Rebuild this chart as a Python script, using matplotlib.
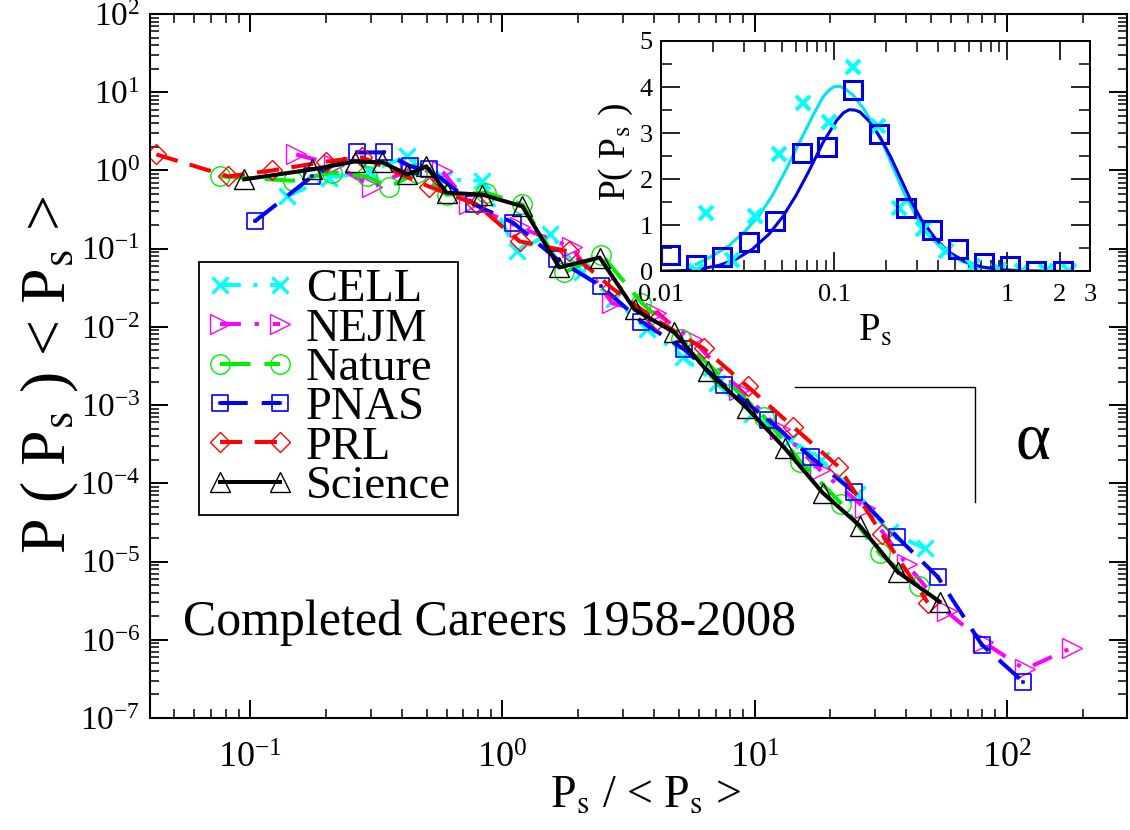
import matplotlib
matplotlib.use("Agg")
import matplotlib.pyplot as plt
from matplotlib.path import Path
from matplotlib.ticker import LogLocator, NullFormatter, FixedLocator, FixedFormatter, MultipleLocator

plt.rcParams["font.family"] = ["Liberation Serif", "DejaVu Serif"]
plt.rcParams["mathtext.fontset"] = "stix"
plt.rcParams["lines.scale_dashes"] = False

# ---- main panel: P(Ps)<Ps> vs Ps/<Ps> ----
cell_x = [0.140, 0.206, 0.297, 0.420, 0.589, 0.826, 1.14, 1.54, 2.06, 2.78, 3.76,
          5.18, 7.07, 9.73, 13.8, 18.4, 25.4, 34.3, 47.3]
cell_y = [0.47, 0.81, 0.97, 1.51, 0.77, 0.74, 0.092, 0.156, 0.0496, 0.0224, 0.0093,
          0.0041, 0.0019, 7.6e-4, 3.6e-4, 2.0e-4, 7.2e-5, 2.4e-5, 1.47e-5]

nejm_x = [0.152, 0.215, 0.305, 0.428, 0.578, 0.739, 1.17, 1.88, 2.73, 4.08, 5.67,
          8.71, 12.6, 18.1, 27.3, 40.1, 57.8, 80.3, 118, 181]
nejm_y = [1.60, 1.19, 0.61, 1.03, 0.97, 0.367, 0.187, 0.104, 0.020, 0.015, 0.0069,
          0.00158, 4.9e-4, 1.5e-4, 4.9e-5, 9.2e-6, 2.3e-6, 9.5e-7, 4.2e-7, 7.9e-7]

nature_x = [0.076, 0.147, 0.211, 0.289, 0.356, 0.460, 0.600, 0.864, 1.20, 1.76, 2.47,
            3.56, 5.13, 7.46, 10.9, 15.2, 22.1, 31.3, 44.8]
nature_y = [0.84, 0.74, 0.94, 0.84, 0.62, 0.94, 0.49, 0.52, 0.367, 0.0496, 0.084,
            0.0205, 0.0069, 0.00226, 7.1e-4, 1.9e-4, 5.5e-5, 1.27e-5, 4.9e-6]

pnas_x = [0.104, 0.176, 0.264, 0.340, 0.428, 0.513, 0.774, 1.10, 1.65, 2.47, 3.56,
          5.27, 7.54, 11.3, 16.8, 24.7, 36.6, 53.2, 79.6, 116]
pnas_y = [0.223, 0.84, 1.70, 1.70, 1.13, 1.03, 0.367, 0.216, 0.0728, 0.0329, 0.0117,
          0.00514, 0.00183, 6.5e-4, 2.14e-4, 7.85e-5, 2.09e-5, 6.4e-6, 8.7e-7, 2.92e-7]

prl_x = [0.0424, 0.0818, 0.122, 0.200, 0.278, 0.513, 0.789, 1.17, 1.84, 2.73, 4.09,
         6.28, 9.38, 14.2, 21.5, 31.9, 48.6]
prl_y = [1.60, 0.84, 1.0, 1.30, 1.47, 0.62, 0.367, 0.124, 0.092, 0.031, 0.0121,
         0.0053, 0.00173, 5.3e-4, 1.64e-4, 2.28e-5, 2.99e-6]

science_x = [0.0946, 0.176, 0.259, 0.334, 0.420, 0.499, 0.600, 0.833, 1.20, 1.68, 2.43,
             3.34, 4.81, 6.51, 9.29, 13.2, 18.6, 26.1, 36.9, 54.2]
science_y = [0.77, 1.03, 1.30, 1.27, 0.89, 1.13, 0.52, 0.49, 0.347, 0.0575, 0.077,
             0.0167, 0.00848, 0.00269, 9.3e-4, 2.79e-4, 7.6e-5, 2.88e-5, 7.4e-6, 3.07e-6]

journals = ["CELL", "NEJM", "Nature", "PNAS", "PRL", "Science"]
main_x = [cell_x, nejm_x, nature_x, pnas_x, prl_x, science_x]
main_y = [cell_y, nejm_y, nature_y, pnas_y, prl_y, science_y]

# slope guide (alpha)
slope_x = [14.4, 74.6, 74.6]
slope_y = [1.68e-3, 1.68e-3, 5.7e-5]

# ---- inset: P(Ps) vs Ps ----
ins_cell_x = [0.016, 0.0183, 0.0257, 0.035, 0.0477, 0.066, 0.0935, 0.128, 0.179, 0.237,
              0.324, 0.444, 0.63, 0.89, 1.22, 1.67, 2.28]
ins_cell_y = [0.0, 1.26, 0.24, 1.21, 2.55, 3.66, 3.24, 4.43, 3.15, 1.38,
              0.92, 0.44, 0.11, 0.04, 0.0, 0.0, 0.0]
ins_pnas_x = [0.0113, 0.016, 0.0226, 0.0321, 0.0454, 0.065, 0.091, 0.128, 0.182, 0.259,
              0.367, 0.519, 0.733, 1.03, 1.47, 2.09]
ins_pnas_y = [0.35, 0.15, 0.32, 0.64, 1.09, 2.57, 2.71, 3.93, 2.98, 1.37,
              0.90, 0.49, 0.18, 0.11, 0.02, 0.0]

fit_cell_x = [0.016, 0.0196, 0.0245, 0.0307, 0.0368, 0.044, 0.0526, 0.063, 0.0753, 0.086,
              0.093, 0.100, 0.107, 0.115, 0.129, 0.148, 0.169, 0.194, 0.222, 0.254,
              0.303, 0.362, 0.434, 0.544, 0.682, 0.89, 1.22, 2.29]
fit_cell_y = [0.16, 0.33, 0.55, 0.88, 1.21, 1.65, 2.20, 2.80, 3.38, 3.78,
              3.93, 4.01, 4.02, 3.97, 3.82, 3.53, 3.16, 2.72, 2.20, 1.69,
              1.14, 0.74, 0.44, 0.22, 0.10, 0.03, 0.01, 0.0]
fit_pnas_x = [0.010, 0.0137, 0.0171, 0.0215, 0.0269, 0.0336, 0.042, 0.0503, 0.0602, 0.072,
              0.086, 0.103, 0.113, 0.122, 0.132, 0.141, 0.161, 0.185, 0.211, 0.242,
              0.277, 0.317, 0.379, 0.452, 0.566, 0.71, 0.93, 1.22, 2.29]
fit_pnas_y = [0.01, 0.02, 0.06, 0.13, 0.26, 0.48, 0.81, 1.18, 1.65, 2.20,
              2.79, 3.27, 3.44, 3.51, 3.50, 3.46, 3.24, 2.90, 2.50, 2.02,
              1.54, 1.14, 0.74, 0.44, 0.22, 0.10, 0.04, 0.015, 0.0]

# square with a centre dot, as the PNAS symbol
_sq = [(-0.5, -0.5), (0.5, -0.5), (0.5, 0.5), (-0.5, 0.5), (-0.5, -0.5)]
_dt = [(-0.04, -0.04), (0.04, -0.04), (0.04, 0.04), (-0.04, 0.04), (-0.04, -0.04)]
_codes = [Path.MOVETO, Path.LINETO, Path.LINETO, Path.LINETO, Path.CLOSEPOLY]
dot_square = Path(_sq + _dt, _codes + _codes)

styles = [
    dict(color="#00ffff", marker="x", ms=12, mew=2.4, dashes=(15, 9, 3, 9)),
    dict(color="#ff00ff", marker=">", ms=14, mew=1.0, dashes=(15, 10, 3, 10)),
    dict(color="#00ee00", marker="o", ms=14, mew=1.0, dashes=(22, 10)),
    dict(color="#0000ff", marker=dot_square, ms=12, mew=1.2, dashes=(20, 10)),
    dict(color="#ff0000", marker="D", ms=10, mew=1.0, dashes=(16, 9)),
    dict(color="#000000", marker="^", ms=14, mew=1.0, dashes=None),
]

fig = plt.figure(figsize=(11.3, 8.3), dpi=100)
ax = fig.add_axes([150 / 1130, 1 - 718 / 830, 977 / 1130, 704 / 830])

handles = []
for name, xs, ys, st in zip(journals, main_x, main_y, styles):
    line, = ax.plot(xs, ys, color=st["color"], lw=2.9, marker=st["marker"],
                    ms=st["ms"], mew=st["mew"], mfc="none", mec=st["color"],
                    label=name)
    if st["dashes"] is not None:
        line.set_dashes(st["dashes"])
    handles.append(line)

ax.plot(slope_x, slope_y, color="k", lw=1.0)
ax.text(127, 3.4e-4, "α", fontsize=48, ha="center", va="center")
ax.text(0.034, 0.136, "Completed Careers 1958-2008", fontsize=36,
        transform=ax.transAxes, ha="left", va="center")

ax.set_xscale("log")
ax.set_yscale("log")
ax.set_xlim(0.04, 300)
ax.set_ylim(1e-7, 1e2)
ax.xaxis.set_major_locator(FixedLocator([0.1, 1, 10, 100]))
ax.yaxis.set_major_locator(LogLocator(base=10, numticks=20))
ax.xaxis.set_minor_locator(LogLocator(base=10, subs=range(2, 10), numticks=20))
ax.yaxis.set_minor_locator(LogLocator(base=10, subs=range(2, 10), numticks=20))
ax.xaxis.set_minor_formatter(NullFormatter())
ax.yaxis.set_minor_formatter(NullFormatter())
ax.tick_params(which="both", direction="in", top=True, right=True)
ax.tick_params(which="major", length=13, width=1.4)
ax.tick_params(which="minor", length=6.5, width=1.1)
ax.tick_params(axis="x", labelsize=26, pad=18)
ax.tick_params(axis="y", labelsize=24, pad=7)
for sp in ax.spines.values():
    sp.set_linewidth(1.5)

ax.text(-0.102, 0.487, r"P ( P$_\mathrm{s}$ ) < P$_\mathrm{s}$ >", fontsize=46,
        rotation=90, ha="center", va="center", transform=ax.transAxes)
ax.text(0.507, -0.11, r"P$_\mathrm{s}$ / < P$_\mathrm{s}$ >", fontsize=33,
        ha="center", va="center", transform=ax.transAxes)

leg = ax.legend(handles, journals, loc="upper left", bbox_to_anchor=(0.050, 0.648),
                numpoints=2, fontsize=33.5, handlelength=1.9, handletextpad=0.25,
                labelspacing=-0.07, borderpad=0.15, borderaxespad=0.0,
                frameon=True, fancybox=False, framealpha=1.0)
leg.get_frame().set_edgecolor("black")
leg.get_frame().set_linewidth(1.3)

# ---- inset ----
ins = fig.add_axes([661 / 1130, 1 - 271.5 / 830, 429 / 1130, 230.5 / 830])
ins.plot(fit_cell_x, fit_cell_y, color="#00e5ee", lw=2.2)
ins.plot(fit_pnas_x, fit_pnas_y, color="#0000e0", lw=2.2)
ins.plot(ins_cell_x, ins_cell_y, ls="none", marker="x", ms=10, mew=3.0, color="#00ffff")
ins.plot(ins_pnas_x, ins_pnas_y, ls="none", marker="s", ms=13, mew=2.2,
         mfc="none", mec="#0000e0")
ins.set_xscale("log")
ins.set_xlim(0.01, 3)
ins.set_ylim(0, 5)
ins.xaxis.set_major_locator(FixedLocator([0.01, 0.1, 1, 2, 3]))
ins.xaxis.set_major_formatter(FixedFormatter(["0.01", "0.1", "1", "2", "3"]))
ins.xaxis.set_minor_locator(LogLocator(base=10, subs=range(2, 10), numticks=20))
ins.xaxis.set_minor_formatter(NullFormatter())
ins.yaxis.set_major_locator(MultipleLocator(1))
ins.yaxis.set_minor_locator(MultipleLocator(0.5))
ins.tick_params(which="both", direction="in", top=True, right=True, labelsize=19)
ins.tick_params(which="major", length=14, width=1.2)
ins.tick_params(which="minor", length=8, width=1.1)
ins.tick_params(axis="x", pad=9)
ins.tick_params(axis="y", pad=6)
for sp in ins.spines.values():
    sp.set_linewidth(1.4)
ins.text(-0.105, 0.518, r"P( P$_\mathrm{s}$ )", fontsize=27, rotation=90,
         ha="center", va="center", transform=ins.transAxes)
ins.text(0.499, -0.26, r"P$_\mathrm{s}$", fontsize=28, ha="center", va="center",
         transform=ins.transAxes)

fig.savefig("out.png", dpi=100)
